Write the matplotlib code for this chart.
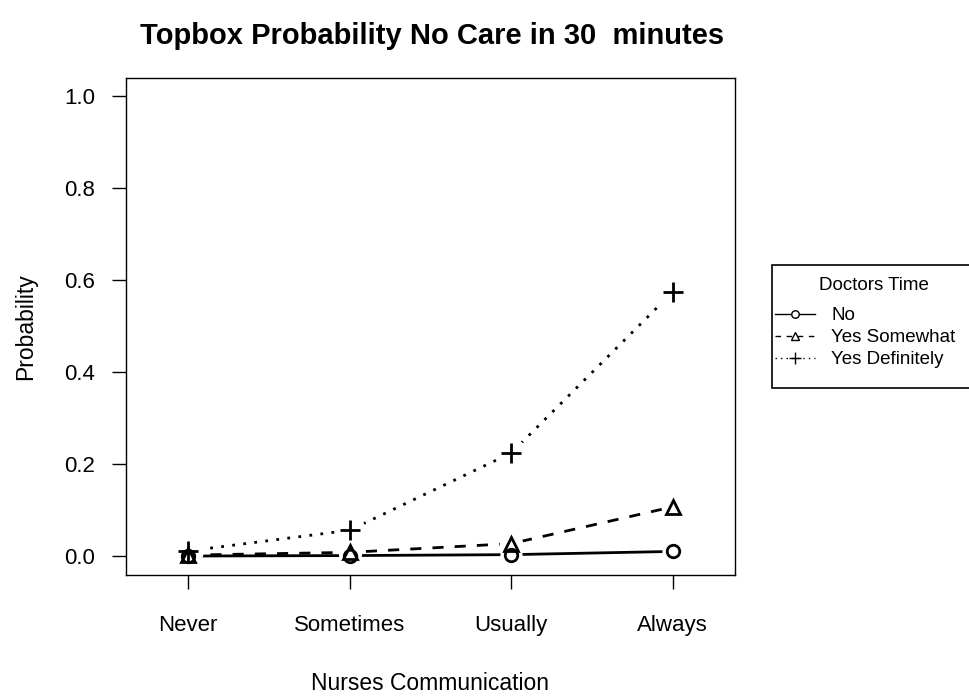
import matplotlib.pyplot as plt
from matplotlib.patches import Rectangle

plt.rcParams['font.family'] = ['Liberation Sans', 'DejaVu Sans']

categorias = ["Never", "Sometimes", "Usually", "Always"]
posicoes = [1, 2, 3, 4]

prob_no = [0.001, 0.002, 0.004, 0.011]
prob_somewhat = [0.003, 0.009, 0.028, 0.108]
prob_definitely = [0.012, 0.057, 0.225, 0.575]

series = [
    ("No", prob_no, '-', 'o', 9),
    ("Yes Somewhat", prob_somewhat, (0, (4, 4)), '^', 10),
    ("Yes Definitely", prob_definitely, (0, (1, 3)), '+', 15),
]

W, H = 969, 696
fig = plt.figure(figsize=(9.69, 6.96), dpi=100)
ax = fig.add_axes([0.130, 0.174, 0.6285, 0.714])

for nome, valores, estilo, marcador, tam in series:
    # linha, "buraco" branco em volta do ponto (tipo "b" do R), depois o marcador
    ax.plot(posicoes, valores, color='black', linestyle=estilo, linewidth=2, zorder=2)
    ax.plot(posicoes, valores, linestyle='none', marker='o', markersize=tam + 6,
            markerfacecolor='white', markeredgecolor='white', zorder=3)
for nome, valores, estilo, marcador, tam in series:
    ax.plot(posicoes, valores, linestyle='none', marker=marcador, markersize=tam,
            markerfacecolor='none', markeredgecolor='black', markeredgewidth=2, zorder=4)
    # entrada da legenda
    ax.plot([], [], color='black', linestyle=estilo, linewidth=1, marker=marcador,
            markersize=tam * 0.6, markerfacecolor='white', markeredgewidth=1, label=nome)

ax.set_xlim(0.615, 4.385)
ax.set_ylim(-0.04, 1.04)
ax.set_xticks(posicoes)
ax.set_xticklabels(categorias)
ax.set_yticks([0.0, 0.2, 0.4, 0.6, 0.8, 1.0])
ax.set_yticklabels(["0.0", "0.2", "0.4", "0.6", "0.8", "1.0"])
ax.tick_params(labelsize=16, length=10, width=1)
ax.tick_params(axis='x', pad=19)
ax.tick_params(axis='y', pad=12)
for s in ax.spines.values():
    s.set_linewidth(1)

ax.set_xlabel("Nurses Communication", fontsize=16.5, labelpad=26)
ax.set_ylabel("Probability", fontsize=16.5, labelpad=20)
fig.text(432 / W, 1 - 36 / H, "Topbox Probability No Care in 30  minutes", fontsize=21,
         fontweight='bold', ha='center', va='center')

# legenda no estilo do R: caixa, titulo centrado e entradas
fig.patches.append(Rectangle((772 / W, 1 - 388 / H), 203 / W, 123 / H,
                             transform=fig.transFigure, facecolor='white',
                             edgecolor='black', linewidth=1.2, zorder=1))
fig.text(874 / W, 1 - 285 / H, "Doctors Time", fontsize=13.5, ha='center', va='center')
leg = fig.legend(loc='upper left', bbox_to_anchor=(775 / W, 1 - 307 / H), borderaxespad=0,
                 fontsize=13.5, frameon=False, handlelength=2.15, handletextpad=0.85,
                 borderpad=0, labelspacing=0.27)

plt.savefig("out.png", dpi=100)
